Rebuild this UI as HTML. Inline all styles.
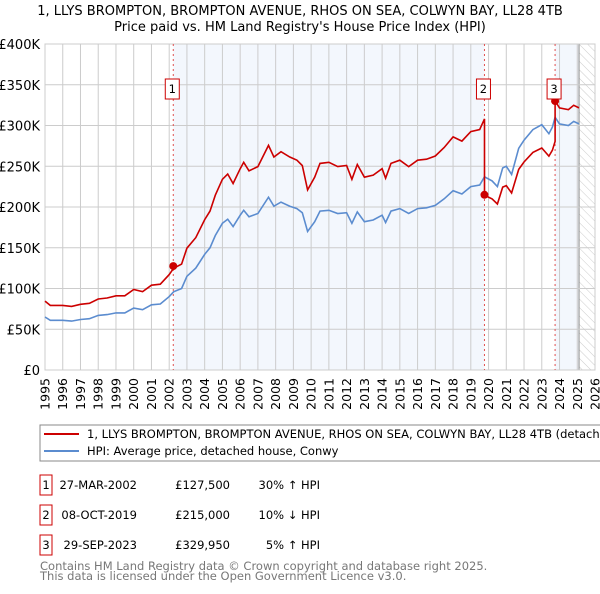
<!DOCTYPE html>
<html><head><meta charset="utf-8"><style>
body{margin:0;background:#fff;width:600px;height:590px;overflow:hidden;font-family:"DejaVu Sans","Liberation Sans",sans-serif}
svg text{font-family:"DejaVu Sans","Liberation Sans",sans-serif}
</style></head><body>
<svg id="c" width="600" height="590">
<defs><pattern id="hatch" width="6" height="6" patternUnits="userSpaceOnUse" patternTransform="rotate(-45)"><line x1="0" y1="0" x2="0" y2="6" stroke="#ccc" stroke-width="1"/></pattern></defs>
<text x="300" y="15" text-anchor="middle" font-size="13">1, LLYS BROMPTON, BROMPTON AVENUE, RHOS ON SEA, COLWYN BAY, LL28 4TB</text>
<text x="300" y="31" text-anchor="middle" font-size="13">Price paid vs. HM Land Registry's House Price Index (HPI)</text>
<g id="plot"></g>
<rect x="40" y="425" width="565" height="36" fill="#fff" stroke="#888"/>
<line x1="44" y1="434" x2="79" y2="434" stroke="#cc0000" stroke-width="2"/>
<text x="87" y="438" font-size="11.5">1, LLYS BROMPTON, BROMPTON AVENUE, RHOS ON SEA, COLWYN BAY, LL28 4TB (detached house)</text>
<line x1="44" y1="451" x2="79" y2="451" stroke="#5b8ccf" stroke-width="2"/>
<text x="87" y="455" font-size="11.5">HPI: Average price, detached house, Conwy</text>
<g font-size="11.5" id="tbl"></g>
<text x="40" y="570" font-size="11.5" fill="#777">Contains HM Land Registry data © Crown copyright and database right 2025.</text>
<text x="40" y="580" font-size="11.5" fill="#777">This data is licensed under the Open Government Licence v3.0.</text>
</svg>
<script>
const hpiYears=[1995,1995.3,1996,1996.5,1997,1997.5,1998,1998.5,1999,1999.5,2000,2000.5,2001,2001.5,2002,2002.25,2002.7,2003,2003.5,2004,2004.3,2004.6,2005,2005.3,2005.6,2006,2006.2,2006.5,2007,2007.6,2007.9,2008.3,2008.8,2009.2,2009.5,2009.8,2010.2,2010.5,2011,2011.5,2012,2012.3,2012.6,2013,2013.5,2014,2014.2,2014.5,2015,2015.5,2016,2016.5,2017,2017.5,2018,2018.5,2019,2019.5,2019.77,2020.2,2020.5,2020.8,2021,2021.3,2021.7,2022,2022.5,2023,2023.4,2023.6,2023.75,2024,2024.5,2024.8,2025.1];
const hpiValues=[65,61,61,60,62,63,67,68,70,70,76,74,80,81,90,96,100,115,125,142,150,165,180,185,176,190,196,188,192,212,201,206,201,198,193,170,182,195,196,192,193,180,194,182,184,190,181,195,198,192,198,199,202,210,220,216,225,227,237,232,225,248,250,240,272,282,295,301,290,298,310,302,300,305,302];
const saleYears=[2002.23,2019.77,2023.75];
const salePrices=[127.5,215,329.95];
const saleRatios=[1.30,0.905,1.065];
const saleDates=["27-MAR-2002","08-OCT-2019","29-SEP-2023"];
const saleLabels=["£127,500","£215,000","£329,950"];
const saleDiffs=["30% ↑ HPI","10% ↓ HPI"," 5% ↑ HPI"];
const yTicks=[0,50,100,150,200,250,300,350,400];
const yTickLabels=["£0","£50K","£100K","£150K","£200K","£250K","£300K","£350K","£400K"];
const xTicks=[1995,1996,1997,1998,1999,2000,2001,2002,2003,2004,2005,2006,2007,2008,2009,2010,2011,2012,2013,2014,2015,2016,2017,2018,2019,2020,2021,2022,2023,2024,2025,2026];
const X0=45,X1=595,Y0=370,Y1=44;
const xs=v=>X0+(v-1995)/(2026-1995)*(X1-X0);
const ys=v=>Y0-v/400*(Y0-Y1);
const NS="http://www.w3.org/2000/svg";
const g=document.getElementById('plot');
function mk(t,a,p){const e=document.createElementNS(NS,t);for(const k in a)e.setAttribute(k,a[k]);(p||g).appendChild(e);return e;}
let e;
e=mk('rect',{x:xs(saleYears[0]),y:Y1,width:xs(saleYears[1])-xs(saleYears[0]),height:Y0-Y1,fill:'#eef3fc',opacity:0.7});


e=mk('rect',{x:xs(saleYears[2]),y:Y1,width:xs(2025.1)-xs(saleYears[2]),height:Y0-Y1,fill:'#eef3fc',opacity:0.7});


e=mk('rect',{x:xs(2025.1),y:Y1,width:X1-xs(2025.1),height:Y0-Y1,fill:'url(#hatch)'});


e=mk('line',{x1:xs(2025.1),y1:Y1,x2:xs(2025.1),y2:Y0,stroke:'#888','stroke-width':1});


yTicks.forEach((t,i)=>{
 e=mk('line',{x1:X0,x2:X1,y1:ys(t),y2:ys(t),stroke:'#ccc'});
 
 
 e=mk('text',{x:40,y:ys(t)+5,'text-anchor':'end','font-size':13});
 e.textContent=yTickLabels[i];
 
 
});
xTicks.forEach(t=>{
 e=mk('line',{x1:xs(t),x2:xs(t),y1:Y1,y2:Y0,stroke:'#ccc'});
 
 
 const tx=xs(t)+4.5;
 e=mk('text',{x:tx,y:378,'text-anchor':'end','font-size':12.5,transform:'rotate(-90 '+tx+' 378)'});
 e.textContent=t;
 
 
});
e=mk('rect',{x:X0,y:Y1,width:X1-X0,height:Y0-Y1,fill:'none',stroke:'#ccc'});


saleYears.forEach((s,i)=>{
 e=mk('line',{x1:xs(s),x2:xs(s),y1:Y1,y2:Y0,stroke:'#e05050','stroke-dasharray':'2,3','stroke-width':1});
 
 
});
const hp=hpiYears.map((y,i)=>xs(y).toFixed(1)+','+ys(hpiValues[i]).toFixed(1)).join(' ');
e=mk('polyline',{points:hp,fill:'none',stroke:'#5b8ccf','stroke-width':1.6});


function hpiAt(y){for(let i=1;i<hpiYears.length;i++){if(y<=hpiYears[i]){const f=(y-hpiYears[i-1])/(hpiYears[i]-hpiYears[i-1]);return hpiValues[i-1]+f*(hpiValues[i]-hpiValues[i-1]);}}return hpiValues[hpiValues.length-1];}
const pts=[];
hpiYears.forEach((y,i)=>{
 let k=0;if(y>=saleYears[2])k=2;else if(y>=saleYears[1])k=1;
 if(i>0){for(let j=1;j<3;j++){if(hpiYears[i-1]<saleYears[j]&&y>=saleYears[j]){pts.push([saleYears[j],hpiAt(saleYears[j])*saleRatios[j-1]]);pts.push([saleYears[j],salePrices[j]]);}}}
 pts.push([y,hpiValues[i]*saleRatios[k]]);
});
e=mk('polyline',{points:pts.map(p=>xs(p[0]).toFixed(1)+','+ys(p[1]).toFixed(1)).join(' '),fill:'none',stroke:'#cc0000','stroke-width':1.6});


saleYears.forEach((s,i)=>{
 e=mk('circle',{cx:xs(s),cy:ys(salePrices[i]),r:4,fill:'#cc0000'});
 
 
 e=mk('rect',{x:xs(s)-8,y:79,width:14,height:20,fill:'#fff',stroke:'#cc0000'});
 
 
 e=mk('text',{x:xs(s)-1,y:93,'text-anchor':'middle','font-size':11.5});
 e.textContent=i+1;
 
 
});
const tb=document.getElementById('tbl');
saleDates.forEach((d,i)=>{
 const y=485+i*30;
 e=mk('rect',{x:40,y:y-10,width:12,height:20,fill:'#fff',stroke:'#cc0000'},tb);
 
 
 e=mk('text',{x:46,y:y+4,'text-anchor':'middle'},tb);e.textContent=i+1;
 
 
 e=mk('text',{x:137,y:y+4,'text-anchor':'end'},tb);e.textContent=d;
 
 
 e=mk('text',{x:230,y:y+4,'text-anchor':'end'},tb);e.textContent=saleLabels[i];
 
 
 e=mk('text',{x:320,y:y+4,'text-anchor':'end','xml:space':'preserve'},tb);e.textContent=saleDiffs[i];
 
 
});
</script>
</body></html>
